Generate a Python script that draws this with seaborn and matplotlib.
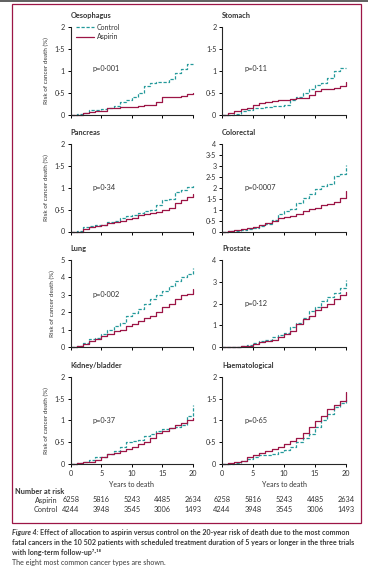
import matplotlib
matplotlib.use("Agg")
import matplotlib.pyplot as plt
import matplotlib.patches as mpatches
import matplotlib.ticker as ticker
import matplotlib.transforms as mtransforms
import pandas as pd
import seaborn as sns

# ---- data (risk of cancer death, %, by year) ----
years = list(range(21))

panel_names = ["Oesophagus", "Stomach", "Pancreas", "Colorectal",
               "Lung", "Prostate", "Kidney/bladder", "Haematological"]
p_values = ["p=0·001", "p=0·11", "p=0·34", "p=0·0007",
            "p=0·002", "p=0·12", "p=0·37", "p=0·65"]

oes_control = [0, 0.02, 0.05, 0.11, 0.12, 0.13, 0.15, 0.2, 0.3, 0.33, 0.4, 0.5, 0.65, 0.72, 0.74, 0.75, 0.82, 0.95, 1.05, 1.15, 1.15]
oes_aspirin = [0, 0, 0.04, 0.07, 0.08, 0.1, 0.15, 0.17, 0.18, 0.18, 0.19, 0.21, 0.22, 0.23, 0.3, 0.4, 0.41, 0.42, 0.44, 0.47, 0.5]
stomach_control = [0, 0, 0.03, 0.08, 0.12, 0.15, 0.16, 0.18, 0.2, 0.21, 0.23, 0.33, 0.4, 0.5, 0.6, 0.68, 0.72, 0.85, 1.0, 1.07, 1.07]
stomach_aspirin = [0, 0.04, 0.08, 0.13, 0.17, 0.22, 0.27, 0.3, 0.32, 0.33, 0.35, 0.37, 0.38, 0.38, 0.45, 0.55, 0.6, 0.6, 0.61, 0.65, 0.75]
pancreas_control = [0, 0.02, 0.1, 0.12, 0.15, 0.15, 0.22, 0.25, 0.3, 0.35, 0.38, 0.42, 0.47, 0.5, 0.6, 0.72, 0.75, 0.9, 0.95, 1.02, 1.08]
pancreas_aspirin = [0, 0, 0.05, 0.1, 0.13, 0.15, 0.2, 0.22, 0.25, 0.28, 0.32, 0.38, 0.4, 0.42, 0.45, 0.5, 0.55, 0.65, 0.72, 0.8, 0.87]
colorectal_control = [0, 0.02, 0.04, 0.08, 0.13, 0.18, 0.25, 0.35, 0.55, 0.8, 0.95, 1.05, 1.3, 1.55, 1.7, 1.95, 2.1, 2.2, 2.55, 2.65, 3.05]
colorectal_aspirin = [0, 0.02, 0.05, 0.12, 0.18, 0.2, 0.28, 0.4, 0.5, 0.6, 0.65, 0.7, 0.8, 0.95, 1.05, 1.1, 1.2, 1.25, 1.35, 1.55, 1.85]
lung_control = [0, 0.05, 0.25, 0.5, 0.55, 0.75, 1.0, 1.2, 1.4, 1.8, 1.95, 2.2, 2.5, 2.75, 3.0, 3.2, 3.5, 3.8, 4.0, 4.2, 4.55]
lung_aspirin = [0, 0.05, 0.2, 0.35, 0.5, 0.65, 0.75, 0.95, 1.0, 1.2, 1.35, 1.5, 1.65, 1.8, 2.05, 2.3, 2.5, 2.75, 3.0, 3.05, 3.35]
prostate_control = [0, 0.02, 0.03, 0.05, 0.1, 0.2, 0.3, 0.35, 0.45, 0.55, 0.65, 0.95, 1.1, 1.35, 1.65, 1.85, 2.1, 2.3, 2.5, 2.7, 3.1]
prostate_aspirin = [0, 0.02, 0.03, 0.05, 0.08, 0.15, 0.25, 0.28, 0.35, 0.45, 0.6, 0.75, 1.05, 1.3, 1.45, 1.7, 1.85, 2.0, 2.2, 2.4, 2.55]
kidney_control = [0, 0.02, 0.05, 0.1, 0.15, 0.17, 0.22, 0.3, 0.38, 0.5, 0.52, 0.55, 0.65, 0.68, 0.75, 0.8, 0.82, 0.85, 0.9, 1.1, 1.35]
kidney_aspirin = [0, 0.03, 0.04, 0.05, 0.1, 0.15, 0.22, 0.25, 0.3, 0.35, 0.4, 0.45, 0.5, 0.6, 0.7, 0.75, 0.82, 0.9, 0.95, 1.0, 1.05]
haem_control = [0, 0.01, 0.03, 0.08, 0.12, 0.17, 0.2, 0.2, 0.22, 0.28, 0.33, 0.4, 0.5, 0.6, 0.68, 0.85, 1.0, 1.15, 1.3, 1.4, 1.5]
haem_aspirin = [0, 0.02, 0.05, 0.08, 0.15, 0.2, 0.25, 0.3, 0.35, 0.4, 0.45, 0.52, 0.6, 0.72, 0.85, 0.98, 1.1, 1.25, 1.35, 1.45, 1.65]

control_series = [oes_control, stomach_control, pancreas_control, colorectal_control,
                  lung_control, prostate_control, kidney_control, haem_control]
aspirin_series = [oes_aspirin, stomach_aspirin, pancreas_aspirin, colorectal_aspirin,
                  lung_aspirin, prostate_aspirin, kidney_aspirin, haem_aspirin]

y_max = [2, 2, 2, 4, 5, 4, 2, 2]
y_step = [0.5, 0.5, 0.5, 0.5, 1, 1, 0.5, 0.5]

risk_years = [0, 5, 10, 15, 20]
aspirin_at_risk = [6258, 5816, 5243, 4485, 2634]
control_at_risk = [4244, 3948, 3545, 3006, 1493]

# ---- styling ----
W, H = 368, 571
TEAL = "#23999a"
MAROON = "#9c1546"
TXT = "#333333"

sns.set_style("ticks")
plt.rcParams['font.family'] = ['Lato', 'DejaVu Sans']
plt.rcParams['axes.linewidth'] = 0.8


def box(x0, y_top, x1, y_bot):
    return [x0 / W, 1 - y_bot / H, (x1 - x0) / W, (y_bot - y_top) / H]


def fy(y_px):
    return 1 - y_px / H


def fmt(v, pos):
    if abs(v - round(v)) < 1e-9:
        return str(int(round(v)))
    return ("%g" % v).replace(".", "·")


cols = [(70.7, 193), (222, 346)]
rows = [(27, 115), (144.3, 231.5), (260, 347.3), (376.7, 464)]
p_ypos = [0.53, 0.53, 0.5, 0.5, 0.6, 0.5, 0.5, 0.5]

fig = plt.figure(figsize=(W / 100, H / 100), dpi=100)

for i, name in enumerate(panel_names):
    r, c = divmod(i, 2)
    x0, x1 = cols[c]
    yt, yb = rows[r]
    ax = fig.add_axes(box(x0, yt, x1, yb))

    df = pd.DataFrame({
        "Years": years * 2,
        "Risk": control_series[i] + aspirin_series[i],
        "arm": ["Control"] * len(years) + ["Aspirin"] * len(years),
    })
    sns.lineplot(data=df, x="Years", y="Risk", hue="arm", style="arm",
                 hue_order=["Control", "Aspirin"], style_order=["Control", "Aspirin"],
                 palette={"Control": TEAL, "Aspirin": MAROON},
                 dashes={"Control": (2.6, 1.4), "Aspirin": ""},
                 estimator=None, drawstyle="steps-post", linewidth=0.9,
                 legend=(i == 0), ax=ax, clip_on=False)

    ax.set_xlim(0, 20)
    ax.set_ylim(0, y_max[i])
    ax.xaxis.set_major_locator(ticker.MultipleLocator(5))
    ax.yaxis.set_major_locator(ticker.MultipleLocator(y_step[i]))
    ax.yaxis.set_major_formatter(ticker.FuncFormatter(fmt))
    ax.tick_params(length=2.5, width=0.7, labelsize=5.2, colors="black",
                   labelcolor=TXT, pad=1.5)
    sns.despine(ax=ax)
    ax.set_xlabel("")
    ax.set_ylabel("")
    if r < 3:
        ax.tick_params(axis="x", labelbottom=False)
    else:
        ax.set_xlabel("Years to death", fontsize=5, color=TXT, labelpad=3.5)
    if c == 0:
        ax.set_ylabel("Risk of cancer death (%)", fontsize=4.6, color=TXT, labelpad=4)

    ax.text(0.0, 1.0 + 11.5 / (yb - yt), name, transform=ax.transAxes,
            fontsize=5.3, fontweight="bold", color=TXT, va="center", ha="left")
    ax.text(0.18, p_ypos[i], p_values[i], transform=ax.transAxes,
            fontsize=5.3, color=TXT, va="center", ha="left")

    if i == 0:
        leg = ax.legend(loc="upper left", bbox_to_anchor=(0.02, 1.07), frameon=False,
                        fontsize=5, handlelength=2.6, handletextpad=0.4,
                        labelspacing=0.35, borderaxespad=0)
        for t in leg.get_texts():
            t.set_color(TXT)

    if r == 3:
        trans = mtransforms.blended_transform_factory(ax.transData, fig.transFigure)
        for k, yr in enumerate(risk_years):
            ax.text(yr, fy(500), str(aspirin_at_risk[k]), transform=trans,
                    fontsize=5.3, color=TXT, ha="center", va="center")
            ax.text(yr, fy(509), str(control_at_risk[k]), transform=trans,
                    fontsize=5.3, color=TXT, ha="center", va="center")

# number at risk labels
fig.text(15 / W, fy(491), "Number at risk", fontsize=5.3, fontweight="bold",
         color=TXT, va="center", ha="left")
fig.text(58 / W, fy(500), "Aspirin", fontsize=5.3, color=TXT, va="center", ha="right")
fig.text(58 / W, fy(509), "Control", fontsize=5.3, color=TXT, va="center", ha="right")

# frame
fig.add_artist(mpatches.Rectangle((12 / W, fy(523)), (361 - 12) / W, (523 - 4) / H,
                                  transform=fig.transFigure, fill=False,
                                  edgecolor=MAROON, linewidth=0.9))
fig.add_artist(plt.Line2D([0, 1], [fy(0.5), fy(0.5)], transform=fig.transFigure,
                          color="#444444", linewidth=1.2))

# caption, sized so that the first line spans the same width as in the reference
CAP = "#3a3a3a"
renderer = fig.canvas.get_renderer()
head = fig.text(12 / W, fy(533), "Figure 4: ", fontsize=5.4, fontstyle="italic",
                fontweight="bold", color=CAP, va="center", ha="left")
line1 = "Effect of allocation to aspirin versus control on the 20-year risk of death due to the most common"
probe = fig.text(0, 0, "Figure 4: " + line1, fontsize=5.4, fontweight="bold")
w = probe.get_window_extent(renderer).width
probe.remove()
cap_size = 5.4 * (352 - 12) / w
head.set_fontsize(cap_size)
hw = head.get_window_extent(renderer).width
fig.text((12 + hw) / W, fy(533), line1, fontsize=cap_size, fontweight="bold",
         color=CAP, va="center", ha="left")
fig.text(12 / W, fy(543),
         "fatal cancers in the 10 502 patients with scheduled treatment duration of 5 years or longer in the three trials",
         fontsize=cap_size, fontweight="bold", color=CAP, va="center", ha="left")
fig.text(12 / W, fy(553), "with long-term follow-up⁷·¹⁸",
         fontsize=cap_size, fontweight="bold", color=CAP, va="center", ha="left")
fig.text(12 / W, fy(563), "The eight most common cancer types are shown.",
         fontsize=cap_size, color=CAP, va="center", ha="left")

fig.savefig("out.png", dpi=100)
